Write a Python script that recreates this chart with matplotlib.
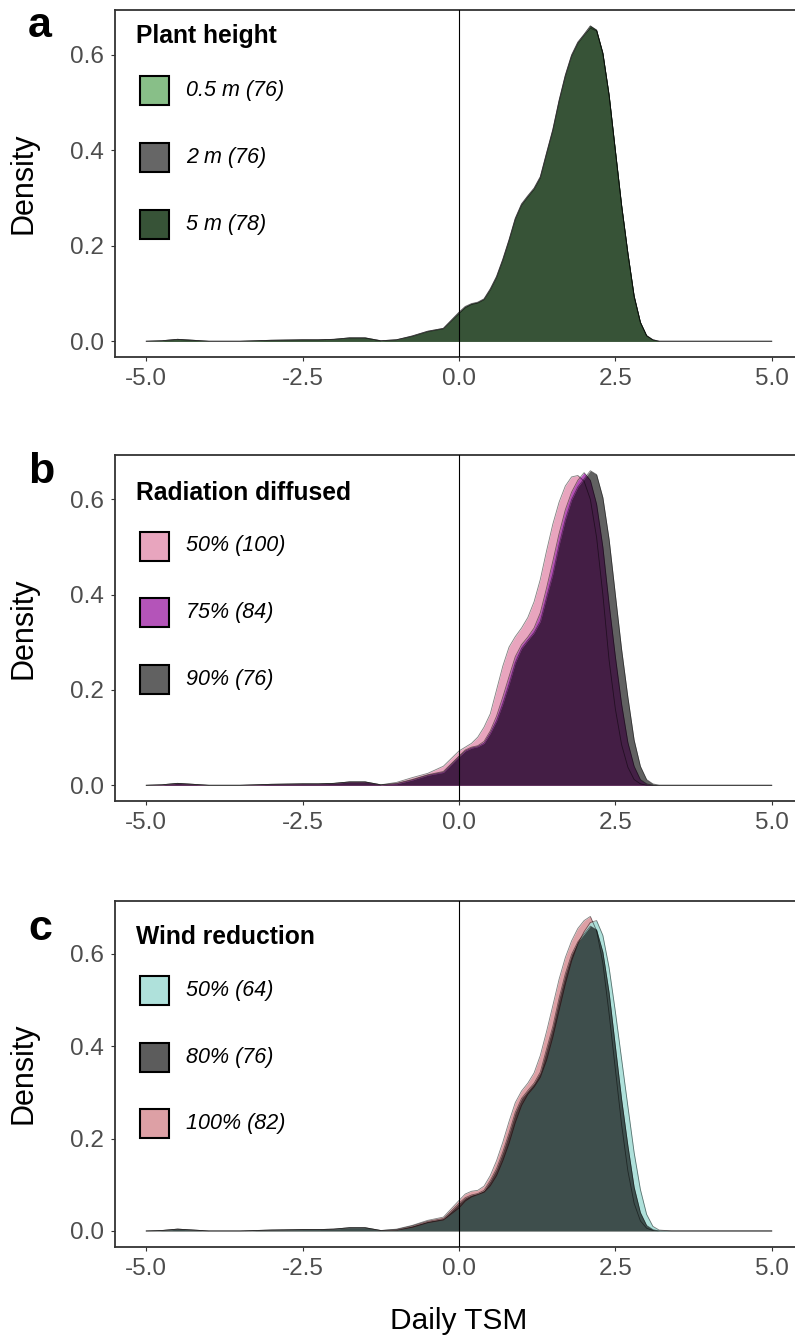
import numpy as np
import matplotlib
matplotlib.use('Agg')
import matplotlib.pyplot as plt
from matplotlib.patches import Rectangle
from matplotlib.colors import to_rgba

plt.rcParams['font.family'] = ['Liberation Sans', 'DejaVu Sans']

# Daily TSM values the densities were read at
tsm = [-5.0, -4.75, -4.5, -4.25, -4.0, -3.5, -3.0, -2.5, -2.25, -2.0, -1.75, -1.5, -1.25,
       -1.0, -0.75, -0.5, -0.25,
       0.0, 0.1, 0.2, 0.3, 0.4, 0.5, 0.6, 0.7, 0.8, 0.9, 1.0, 1.1, 1.2, 1.3, 1.4, 1.5, 1.6,
       1.7, 1.8, 1.9, 2.0, 2.1, 2.2, 2.3, 2.4, 2.5, 2.6, 2.7, 2.8, 2.9, 3.0, 3.1, 3.2,
       3.4, 3.7, 4.0, 4.5, 5.0]

# shared left tail (-5 .. -1.25) and right tail (3.4 .. 5)
left_tail = [0.0, 0.001, 0.004, 0.002, 0.0, 0.0, 0.002, 0.003, 0.003, 0.004, 0.007, 0.007, 0.001]
right_tail = [0.0, 0.0, 0.0, 0.0, 0.0]

# baseline scenario (2 m / 90% diffused / 80% wind), n = 76
baseline = left_tail + [0.003, 0.011, 0.021, 0.027,
    0.060, 0.072, 0.078, 0.081, 0.088, 0.109, 0.135, 0.171, 0.212, 0.257, 0.287, 0.304, 0.320,
    0.344, 0.394, 0.443, 0.504, 0.557, 0.599, 0.626, 0.643, 0.660, 0.652, 0.604, 0.516, 0.400,
    0.285, 0.185, 0.095, 0.040, 0.012, 0.003, 0.0] + right_tail

# a: plant height
h05 = left_tail + [0.003, 0.010, 0.020, 0.026,
    0.058, 0.070, 0.077, 0.080, 0.087, 0.107, 0.133, 0.169, 0.210, 0.255, 0.285, 0.302, 0.318,
    0.342, 0.392, 0.441, 0.502, 0.555, 0.597, 0.624, 0.641, 0.656, 0.650, 0.602, 0.514, 0.398,
    0.283, 0.183, 0.093, 0.039, 0.011, 0.003, 0.0] + right_tail
h5 = left_tail + [0.003, 0.011, 0.021, 0.027,
    0.061, 0.073, 0.079, 0.082, 0.089, 0.110, 0.136, 0.172, 0.213, 0.258, 0.288, 0.305, 0.321,
    0.345, 0.395, 0.444, 0.505, 0.558, 0.600, 0.627, 0.643, 0.661, 0.652, 0.604, 0.516, 0.400,
    0.285, 0.185, 0.095, 0.040, 0.012, 0.003, 0.0] + right_tail

# b: radiation diffused
rad50 = left_tail + [0.006, 0.016, 0.025, 0.040,
    0.072, 0.080, 0.088, 0.101, 0.122, 0.150, 0.200, 0.250, 0.290, 0.312, 0.330, 0.352, 0.385,
    0.432, 0.492, 0.548, 0.594, 0.628, 0.647, 0.650, 0.638, 0.600, 0.520, 0.400, 0.262, 0.160,
    0.085, 0.038, 0.012, 0.003, 0.0, 0.0, 0.0] + right_tail
rad75 = left_tail + [0.004, 0.012, 0.022, 0.029,
    0.061, 0.074, 0.080, 0.083, 0.092, 0.114, 0.145, 0.185, 0.228, 0.270, 0.295, 0.311, 0.330,
    0.362, 0.414, 0.470, 0.528, 0.578, 0.615, 0.640, 0.656, 0.640, 0.590, 0.500, 0.380, 0.270,
    0.170, 0.090, 0.040, 0.012, 0.003, 0.0, 0.0] + right_tail

# c: wind reduction
wind50 = left_tail + [0.002, 0.008, 0.018, 0.024,
    0.050, 0.065, 0.074, 0.079, 0.084, 0.098, 0.120, 0.152, 0.190, 0.235, 0.272, 0.296, 0.312,
    0.333, 0.370, 0.420, 0.478, 0.535, 0.585, 0.622, 0.648, 0.668, 0.672, 0.640, 0.570, 0.475,
    0.372, 0.270, 0.170, 0.090, 0.036, 0.010, 0.002] + right_tail
wind100 = left_tail + [0.004, 0.012, 0.023, 0.030,
    0.066, 0.080, 0.086, 0.088, 0.097, 0.120, 0.152, 0.192, 0.237, 0.278, 0.303, 0.320, 0.342,
    0.380, 0.432, 0.488, 0.545, 0.592, 0.628, 0.655, 0.672, 0.681, 0.650, 0.580, 0.470, 0.350,
    0.230, 0.130, 0.060, 0.022, 0.006, 0.001, 0.0] + right_tail

panel_letters = ['a', 'b', 'c']
legend_titles = ['Plant height', 'Radiation diffused', 'Wind reduction']
legend_labels = [['0.5 m (76)', '2 m (76)', '5 m (78)'],
                 ['50% (100)', '75% (84)', '90% (76)'],
                 ['50% (64)', '80% (76)', '100% (82)']]
panel_series = [[h05, baseline, h5],
                [rad50, rad75, baseline],
                [wind50, baseline, wind100]]
xticks = [-5.0, -2.5, 0.0, 2.5, 5.0]
xtick_labels = ['-5.0', '-2.5', '0.0', '2.5', '5.0']
yticks = [0.0, 0.2, 0.4, 0.6]
ytick_labels = ['0.0', '0.2', '0.4', '0.6']

# styling
panel_colors = [[('#88BF88', 1.0), ('black', 0.6), ('#375337', 1.0)],
                [('#E8A5BE', 1.0), ('#B04BB5', 0.95), ('black', 0.62)],
                [('#A8DFD8', 0.92), ('black', 0.64), ('#DDA0A5', 1.0)]]
draw_order = [[0, 1, 2], [0, 1, 2], [2, 0, 1]]
# pixel layout: axes top/bottom, letter baseline, legend title baseline, first key centre
layout = [(10, 357, 37, 43, 90.7),
          (455, 801, 483, 500, 546),
          (900.7, 1246.7, 940, 944, 990.5)]

W, H = 795, 1336
fig = plt.figure(figsize=(W / 100, H / 100), dpi=100)
def fx(px): return px / W
def fy(py): return 1 - py / H

for i in range(3):
    top, bot, let_y, tit_y, key_y = layout[i]
    ax = fig.add_axes([fx(115), fy(bot), 688 / W, (bot - top) / H])
    series = panel_series[i]
    for j in draw_order[i]:
        c, a = panel_colors[i][j]
        ax.fill_between(tsm, series[j], 0, color=c, alpha=a, lw=0)
        ax.plot(tsm, series[j], color='black', lw=0.6, alpha=0.5)
    ax.axvline(0, color='black', lw=0.8, zorder=5)
    m = max(max(s) for s in series)
    ax.set_ylim(-0.05 * m, 1.05 * m)
    ax.set_xlim(-5.5, 5.5)
    ax.set_xticks(xticks)
    ax.set_xticklabels(xtick_labels)
    ax.set_yticks(yticks)
    ax.set_yticklabels(ytick_labels)
    ax.tick_params(length=3, width=0.8, color='#333333', labelcolor='#4D4D4D',
                   labelsize=17.5, pad=5)
    for sp in ax.spines.values():
        sp.set_color('#333333')
        sp.set_linewidth(1.3)
    ax.set_ylabel('Density', fontsize=22, va='center')
    ax.yaxis.set_label_coords((23 - 115) / 688, 0.5)

    fig.text(fx(28), fy(let_y), panel_letters[i], fontsize=31, fontweight='bold',
             va='baseline')
    fig.text(fx(136), fy(tit_y), legend_titles[i], fontsize=17.7, fontweight='bold',
             va='baseline')
    for k in range(3):
        c, a = panel_colors[i][k]
        cy = key_y + k * 66.7
        fig.add_artist(Rectangle((fx(140), fy(cy + 14.5)), 29 / W, 29 / H,
                                 transform=fig.transFigure, facecolor=to_rgba(c, a),
                                 edgecolor='black', lw=1.5))
        fig.text(fx(186), fy(cy), legend_labels[i][k], fontsize=15.5, style='italic',
                 va='center')

ax.set_xlabel('Daily TSM', fontsize=21.5, va='center')
ax.xaxis.set_label_coords(0.5, -(1321 - 1246.7) / 346)

fig.savefig('out.png', dpi=100)
plt.close(fig)
